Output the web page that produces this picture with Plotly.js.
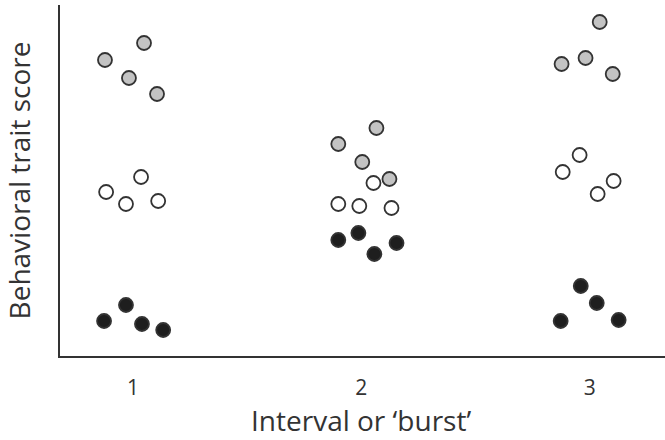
<!DOCTYPE html>
<html>
<head>
<meta charset="utf-8">
<script src="https://cdn.plot.ly/plotly-3.0.1.min.js"></script>
<style>
  html, body { margin: 0; padding: 0; background: #fff; }
  #chart { width: 665px; height: 440px; }
</style>
</head>
<body>
<div id="chart"></div>
<script>
// values (arbitrary score units)
var greyX  = [0.877, 1.048, 0.982, 1.105, 1.899, 2.066, 2.004, 2.123, 3.044, 2.877, 2.982, 3.101];
var greyY  = [29.6, 31.3, 27.8, 26.2, 21.2, 22.8, 19.4, 17.7, 33.4, 29.2, 29.8, 28.2];
var whiteX = [0.882, 1.035, 0.969, 1.110, 2.053, 1.899, 1.991, 2.132, 2.956, 2.882, 3.105, 3.035];
var whiteY = [16.4, 17.9, 15.2, 15.5, 17.3, 15.2, 15.0, 14.8, 20.1, 18.4, 17.5, 16.2];
var blackX = [0.873, 0.969, 1.039, 1.132, 1.899, 1.987, 2.057, 2.154, 2.961, 3.031, 2.873, 3.127];
var blackY = [3.5, 5.1, 3.2, 2.6, 11.6, 12.3, 10.2, 11.3, 7.0, 5.3, 3.5, 3.6];
var tickVals = [1, 2, 3];
var tickText = ["1", "2", "3"];
var xTitle = "Interval or \u2018burst\u2019";
var yTitle = "Behavioral trait score";

function dots(x, y, fill) {
  return {
    x: x, y: y, type: "scatter", mode: "markers", hoverinfo: "skip",
    marker: {size: 14, color: fill, line: {color: "#333", width: 1.8}}
  };
}

var data = [
  dots(greyX, greyY, "#c3c3c3"),
  dots(whiteX, whiteY, "#ffffff"),
  dots(blackX, blackY, "#1e1e1e")
];

var layout = {
  width: 665, height: 440,
  margin: {l: 60, r: 0, t: 5, b: 84},
  showlegend: false,
  paper_bgcolor: "#fff", plot_bgcolor: "#fff",
  font: {family: "Open Sans, Liberation Sans, sans-serif", color: "#333"},
  xaxis: {
    range: [0.68, 3.33], tickvals: tickVals, ticktext: tickText,
    showgrid: false, zeroline: false, showline: true, linecolor: "#333", linewidth: 2,
    ticks: "", tickfont: {size: 21, color: "#333"}, ticklabelstandoff: 12
  },
  yaxis: {
    range: [0, 35.1],
    showgrid: false, zeroline: false, showline: true, linecolor: "#333", linewidth: 2,
    ticks: "", showticklabels: false,
    title: {text: yTitle, font: {size: 28, color: "#333"}, standoff: 27}
  },
  // x title as an annotation so it can sit a little lower
  annotations: [{
    text: xTitle, xref: "x", yref: "paper", x: 2, y: -0.181,
    xanchor: "center", yanchor: "middle", showarrow: false, borderpad: 0,
    font: {size: 28, color: "#333"}
  }]
};

Plotly.newPlot("chart", data, layout, {staticPlot: true});
</script>
</body>
</html>
